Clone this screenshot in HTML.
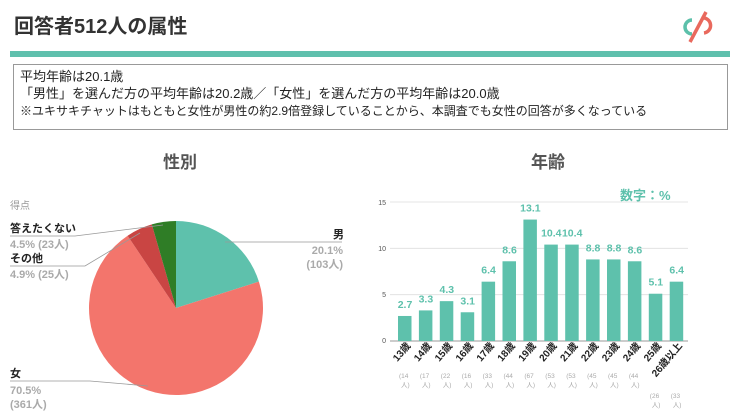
<!DOCTYPE html><html><head><meta charset="utf-8"><style>
body{margin:0;width:736px;height:414px;background:#fff;font-family:"Liberation Sans","Noto Sans CJK JP",sans-serif;position:relative;overflow:hidden}
.a{position:absolute;white-space:nowrap}
</style></head><body>
<div class="a" style="left:14px;top:10px;font-size:20px;font-weight:bold;color:#333">回答者512人の属性</div>
<svg class="a" style="left:676px;top:8px" width="44" height="36" viewBox="0 0 44 36"><path d="M16 12 A7 7 0 1 0 16 26" fill="none" stroke="#5cc0aa" stroke-width="3.5"/><path d="M14 34 L30 4" stroke="#e9695d" stroke-width="3.5"/><path d="M26 10 A7 7 0 1 1 28 25" fill="none" stroke="#e9695d" stroke-width="3.5"/></svg>
<div class="a" style="left:10px;top:51px;width:720px;height:6px;background:#5fc0ad"></div>
<div class="a" style="left:13px;top:64px;width:713px;height:64px;border:1px solid #999"></div>
<div class="a" style="left:20px;top:68px;font-size:13px;line-height:17px;color:#222">平均年齢は20.1歳<br>「男性」を選んだ方の平均年齢は20.2歳／「女性」を選んだ方の平均年齢は20.0歳<br><span style="font-size:12px">※ユキサキチャットはもともと女性が男性の約2.9倍登録していることから、本調査でも女性の回答が多くなっている</span></div>
<div class="a" style="left:163px;top:148px;font-size:17px;font-weight:bold;color:#555">性別</div>
<div class="a" style="left:531px;top:148px;font-size:17px;font-weight:bold;color:#555">年齢</div>
<svg class="a" style="left:0;top:0" width="736" height="414">
<g font-family="Liberation Sans,Noto Sans CJK JP,sans-serif">
<path d="M176 308 L176 221 A87 87 0 0 1 258.9 281.6 Z" fill="#5ec1ac"/>
<path d="M176 308 L258.9 281.6 A87 87 0 1 1 127.6 235.7 Z" fill="#f3756c"/>
<path d="M176 308 L127.6 235.7 A87 87 0 0 1 151.8 224.4 Z" fill="#c94543"/>
<path d="M176 308 L151.8 224.4 A87 87 0 0 1 176 221 Z" fill="#2f7d26"/>
<g stroke="#999" stroke-width="0.8" fill="none">
<path d="M225 242 L342 242"/><path d="M148 386 L90 381 L10 381"/><path d="M140 233 L85 266 L10 266"/><path d="M163 225 L75 236 L10 236"/></g>
<text x="10" y="209" font-size="10" fill="#999">得点</text>
<text x="10" y="232" font-size="11" font-weight="bold" fill="#222">答えたくない</text>
<text x="10" y="248" font-size="11" font-weight="bold" fill="#aaa">4.5%  (23人)</text>
<text x="10" y="262" font-size="11" font-weight="bold" fill="#222">その他</text>
<text x="10" y="278" font-size="11" font-weight="bold" fill="#aaa">4.9% (25人)</text>
<text x="333" y="238" font-size="11" font-weight="bold" fill="#222">男</text>
<text x="343" y="254" font-size="11" font-weight="bold" fill="#aaa" text-anchor="end">20.1%</text>
<text x="343" y="268" font-size="11" font-weight="bold" fill="#aaa" text-anchor="end">(103人)</text>
<text x="10" y="377" font-size="11" font-weight="bold" fill="#222">女</text>
<text x="10" y="394" font-size="11" font-weight="bold" fill="#aaa">70.5%</text>
<text x="10" y="408" font-size="11" font-weight="bold" fill="#aaa">(361人)</text>
<g stroke="#ddd" stroke-width="0.8"><path d="M390 202H688M390 248.3H688M390 294.7H688"/></g>
<path d="M390 341H688" stroke="#999" stroke-width="1"/>
<g font-size="7" fill="#555" text-anchor="end"><text x="386" y="205">15</text><text x="386" y="251">10</text><text x="386" y="297">5</text><text x="386" y="343">0</text></g>
<text x="620" y="200" font-size="13" font-weight="bold" fill="#5ec1ac">数字：%</text>
<g id="bars"></g>
</g></svg>
<script>
var v=[2.7,3.3,4.3,3.1,6.4,8.6,13.1,10.4,10.4,8.8,8.8,8.6,5.1,6.4],n=[14,17,22,16,33,44,67,53,53,45,45,44,26,33];
var lab=["13歳","14歳","15歳","16歳","17歳","18歳","19歳","20歳","21歳","22歳","23歳","24歳","25歳","26歳以上"];
var s="";
for(var i=0;i<14;i++){var val=v[i],cnt=n[i];
var x=398+i*20.9,h=val*9.27,y=341-h;
s+='<rect x="'+x+'" y="'+y+'" width="13.5" height="'+h+'" fill="#5ec1ac"/>';
s+='<text x="'+(x+7)+'" y="'+(y-8)+'" font-size="10.5" font-weight="bold" fill="#5ec1ac" text-anchor="middle">'+val+'</text>';
s+='<text transform="translate('+(x+13)+',346) rotate(-50)" font-size="10" font-weight="bold" fill="#222" text-anchor="end">'+lab[i]+'</text>';
var ly=i>=12?398:378;
s+='<text x="'+(x+1)+'" y="'+ly+'" font-size="6.5" fill="#aaa">('+cnt+'</text><text x="'+(x+3)+'" y="'+(ly+9)+'" font-size="6.5" fill="#aaa">人)</text>';}
document.getElementById("bars").innerHTML=s;
</script>
</body></html>
